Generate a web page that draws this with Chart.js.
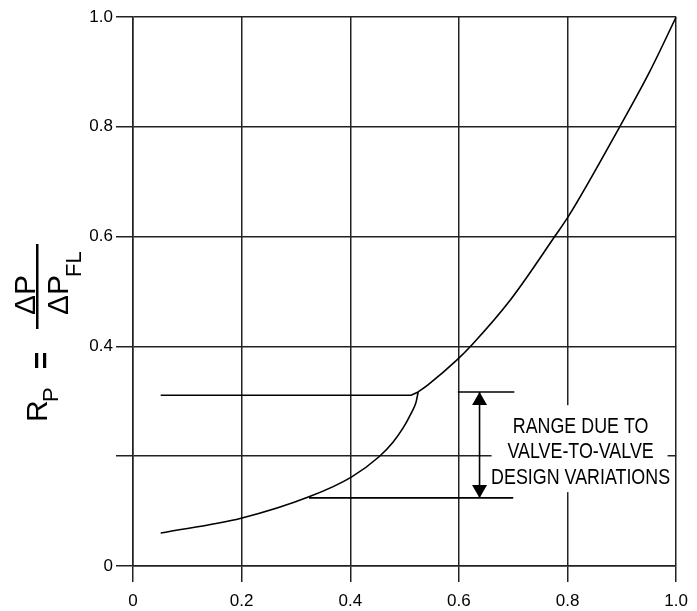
<!DOCTYPE html>
<html>
<head>
<meta charset="utf-8">
<script src="https://cdn.jsdelivr.net/npm/chart.js@4.4.1/dist/chart.umd.min.js"></script>
<style>
  html, body { margin: 0; padding: 0; background: #fff; }
  #wrap { width: 697px; height: 611px; }
</style>
</head>
<body>
<div id="wrap"><canvas id="chart" width="697" height="611"></canvas></div>
<script>
// upper curve, from the cusp up to (1,1)
const upperX = [0.525, 0.543, 0.596, 0.625, 0.695, 0.777, 0.803, 0.896, 0.951, 1.0];
const upperY = [0.317, 0.330, 0.375, 0.404, 0.485, 0.601, 0.639, 0.800, 0.900, 1.0];
// lower branch, rising into the cusp
const lowerX = [0.051, 0.199, 0.324, 0.402, 0.453, 0.479, 0.497, 0.512, 0.521, 0.525];
const lowerY = [0.060, 0.087, 0.126, 0.162, 0.199, 0.226, 0.251, 0.278, 0.298, 0.317];
// range lines
const topLineX = [0.051, 0.512, 0.525];
const topLineY = [0.311, 0.311, 0.317];
const bottomLineX = [0.324, 0.700];
const bottomLineY = [0.124, 0.124];
const rightLineX = [0.598, 0.702];
const rightLineY = [0.317, 0.317];
const arrowX = [0.638, 0.638];
const arrowY = [0.317, 0.124];
// axes
const xTicks = [0, 0.2, 0.4, 0.6, 0.8, 1.0];
const xTickLabels = ['0', '0.2', '0.4', '0.6', '0.8', '1.0'];
const yTicks = [0, 0.2, 0.4, 0.6, 0.8, 1.0];
const yTickLabels = ['0', '', '0.4', '0.6', '0.8', '1.0'];
// note
const noteLines = ['RANGE DUE TO', 'VALVE-TO-VALVE', 'DESIGN VARIATIONS'];
const notePos = [0.824, 0.211];

const FONT = '"Liberation Sans", Arial, Helvetica, sans-serif';

function pts(xs, ys) {
    return xs.map((x, i) => ({ x: x, y: ys[i] }));
}

function lineSet(xs, ys, smooth) {
    return {
        data: pts(xs, ys),
        showLine: true,
        borderColor: '#000',
        borderWidth: 1.6,
        pointRadius: 0,
        cubicInterpolationMode: smooth ? 'monotone' : 'default',
        tension: 0,
        fill: false
    };
}

const extras = {
    id: 'extras',
    afterDatasetsDraw(chart) {
        const ctx = chart.ctx;
        const xs = chart.scales.x, ys = chart.scales.y;

        // arrow heads
        const ax = xs.getPixelForValue(arrowX[0]);
        const aTop = ys.getPixelForValue(arrowY[0]);
        const aBot = ys.getPixelForValue(arrowY[1]);
        ctx.save();
        ctx.fillStyle = '#000';
        ctx.beginPath();
        ctx.moveTo(ax, aTop);
        ctx.lineTo(ax - 7.5, aTop + 13);
        ctx.lineTo(ax + 7.5, aTop + 13);
        ctx.closePath();
        ctx.fill();
        ctx.beginPath();
        ctx.moveTo(ax, aBot);
        ctx.lineTo(ax - 7.5, aBot - 13);
        ctx.lineTo(ax + 7.5, aBot - 13);
        ctx.closePath();
        ctx.fill();

        // note box with text
        const cx = xs.getPixelForValue(notePos[0]);
        const cy = ys.getPixelForValue(notePos[1]);
        ctx.fillStyle = '#fff';
        ctx.fillRect(cx - 89, cy - 45, 176, 87);
        ctx.font = '22px ' + FONT;
        const w = ctx.measureText(noteLines[2]).width;
        const sx = 179 / w;
        ctx.fillStyle = '#000';
        ctx.textAlign = 'center';
        ctx.textBaseline = 'alphabetic';
        noteLines.forEach((t, i) => {
            ctx.save();
            ctx.translate(cx, cy + (i - 1) * 25.5 + 8);
            ctx.scale(sx, 1);
            ctx.fillText(t, 0, 0);
            ctx.restore();
        });
        ctx.restore();
    },
    afterDraw(chart) {
        const ctx = chart.ctx;
        ctx.save();
        ctx.fillStyle = '#000';
        ctx.fillRect(36, 244, 2.5, 85);
        ctx.rotate(-Math.PI / 2);
        ctx.textBaseline = 'alphabetic';
        ctx.textAlign = 'left';
        ctx.font = '30px ' + FONT;
        ctx.fillText('R', -422, 47);
        ctx.fillText('\u0394P', -315, 35);
        ctx.fillText('\u0394P', -315, 68);
        ctx.font = '22px ' + FONT;
        ctx.fillText('P', -402, 58);
        ctx.fillText('FL', -277, 81);
        ctx.font = 'bold 30px ' + FONT;
        ctx.textAlign = 'center';
        ctx.fillText('=', -360.5, 51);
        ctx.restore();
    }
};

const gridStyle = { color: '#222', lineWidth: 1.5 };

new Chart(document.getElementById('chart'), {
    type: 'scatter',
    data: {
        datasets: [
            lineSet(upperX, upperY, true),
            lineSet(lowerX, lowerY, true),
            lineSet(topLineX, topLineY),
            lineSet(bottomLineX, bottomLineY),
            lineSet(rightLineX, rightLineY),
            lineSet(arrowX, arrowY)
        ]
    },
    options: {
        responsive: false,
        animation: false,
        layout: { padding: { top: 17, right: 17, left: 0, bottom: 0 } },
        plugins: {
            legend: { display: false },
            tooltip: { enabled: false }
        },
        scales: {
            x: {
                type: 'linear',
                min: 0,
                max: 1,
                afterBuildTicks: s => { s.ticks = xTicks.map(v => ({ value: v })); },
                afterFit: s => { s.height = 45; },
                ticks: {
                    callback: (v, i) => xTickLabels[i],
                    font: { family: FONT, size: 17 },
                    color: '#000',
                    padding: 9,
                    maxRotation: 0
                },
                grid: { color: gridStyle.color, lineWidth: gridStyle.lineWidth, tickLength: 16 },
                border: { color: '#222', width: 1.5 }
            },
            y: {
                type: 'linear',
                min: 0,
                max: 1,
                afterBuildTicks: s => { s.ticks = yTicks.map(v => ({ value: v })); },
                afterFit: s => { s.width = 133; },
                ticks: {
                    callback: (v, i) => yTickLabels[i],
                    font: { family: FONT, size: 17 },
                    color: '#000',
                    padding: 3
                },
                grid: { color: gridStyle.color, lineWidth: gridStyle.lineWidth, tickLength: 17 },
                border: { color: '#222', width: 1.5 }
            }
        }
    },
    plugins: [extras]
});
</script>
</body>
</html>
